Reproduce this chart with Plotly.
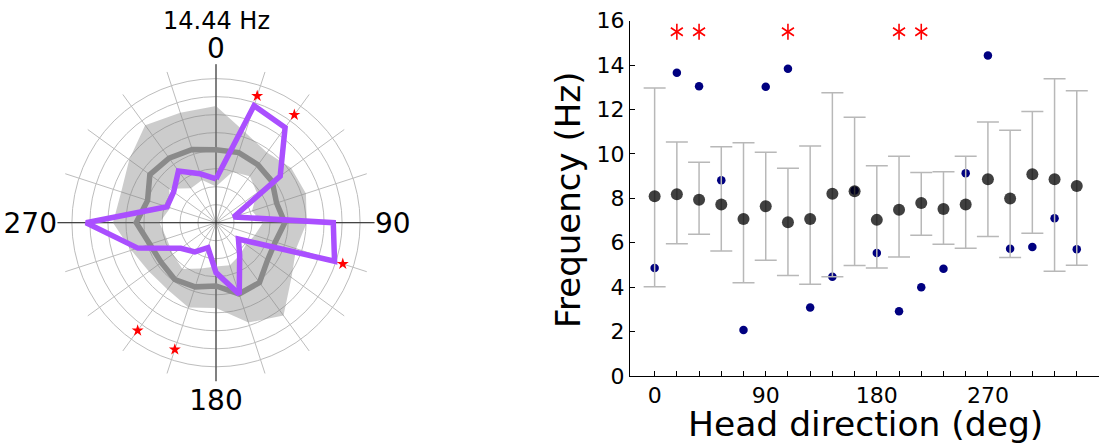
import plotly.graph_objects as go

# ---------------- data ----------------
angles = list(range(0, 360, 18))  # head-direction bins (deg)
mean_rate = [8.09, 8.18, 7.94, 7.72, 7.07, 7.64, 6.92, 7.07, 8.21, 8.32,
             7.03, 7.49, 7.79, 7.52, 7.72, 8.86, 7.99, 9.08, 8.86, 8.56]
upper = [12.97, 10.54, 9.62, 10.32, 10.50, 10.07, 9.35, 10.36, 12.75, 11.65,
         9.47, 9.89, 9.16, 9.20, 9.89, 11.44, 11.07, 11.91, 13.39, 12.84]
lower = [4.02, 5.96, 6.38, 5.63, 4.20, 5.21, 4.52, 4.13, 4.47, 4.97,
         4.86, 5.36, 6.34, 5.93, 5.75, 6.28, 5.33, 6.43, 4.72, 4.99]
observed = [4.86, 13.66, 13.05, 8.81, 2.07, 13.02, 13.84, 3.08, 4.47, 8.35,
            5.54, 2.91, 4.00, 4.83, 9.13, 14.43, 5.73, 5.81, 7.10, 5.71]
star_angles = [18, 36, 108, 198, 216]
star_level_linear = 15.5
star_level_polar = 14.8
peak_label = "14.44 Hz"
x_title = "Head direction (deg)"
y_title = "Frequency (Hz)"
polar_tick_angles = [0, 90, 180, 270]
polar_tick_text = ["0", "90", "180", "270"]
radial_grid = [2, 4, 6, 8, 10, 12, 14, 16]
y_ticks = [0, 2, 4, 6, 8, 10, 12, 14, 16]
x_tick_text = [str(a) if a % 90 == 0 else "" for a in angles]

FONT = "DejaVu Sans"
W, H = 1099, 444


def closed(a):
    return list(a) + list(a[:1])


fig = go.Figure()

# ---------------- polar panel ----------------
# invisible trace so that the grid-only polar subplot is drawn
fig.add_trace(go.Scatterpolar(r=[0], theta=[0], mode="markers",
                              marker=dict(size=1, opacity=0),
                              subplot="polar", hoverinfo="skip"))
fig.add_trace(go.Scatterpolar(r=closed(lower), theta=closed(angles), mode="lines",
                              line=dict(width=0, color="rgba(0,0,0,0)"),
                              subplot="polar2", hoverinfo="skip"))
fig.add_trace(go.Scatterpolar(r=closed(upper), theta=closed(angles), mode="lines",
                              line=dict(width=0, color="rgba(0,0,0,0)"),
                              fill="tonext", fillcolor="rgba(128,128,128,0.40)",
                              subplot="polar2", hoverinfo="skip"))
fig.add_trace(go.Scatterpolar(r=closed(mean_rate), theta=closed(angles), mode="lines",
                              line=dict(width=5.5, color="#8a8a8a"),
                              subplot="polar2"))
fig.add_trace(go.Scatterpolar(r=closed(observed), theta=closed(angles), mode="lines",
                              line=dict(width=5.5, color="#aa4fff"),
                              subplot="polar2"))
fig.add_trace(go.Scatterpolar(r=[star_level_polar] * len(star_angles), theta=star_angles,
                              mode="markers",
                              marker=dict(symbol="star", size=9, color="red", line=dict(width=0)),
                              subplot="polar2"))

# ---------------- linear panel ----------------
fig.add_trace(go.Scatter(x=angles, y=observed, mode="markers",
                         marker=dict(size=8.5, color="#000080", line=dict(width=0)),
                         xaxis="x", yaxis="y"))
fig.add_trace(go.Scatter(x=angles, y=mean_rate, mode="markers",
                         marker=dict(size=12, color="rgba(0,0,0,0.75)", line=dict(width=0)),
                         error_y=dict(type="data", symmetric=False,
                                      array=[u - m for u, m in zip(upper, mean_rate)],
                                      arrayminus=[m - l for m, l in zip(mean_rate, lower)],
                                      color="#b8b8b8", thickness=1.5, width=11),
                         xaxis="x", yaxis="y"))
for sym in ["y-up-open", "y-down-open"]:
    fig.add_trace(go.Scatter(x=star_angles, y=[star_level_linear] * len(star_angles),
                             mode="markers",
                             marker=dict(symbol=sym, size=10, color="red",
                                         line=dict(width=1.6, color="red")),
                             xaxis="x", yaxis="y"))

pdom_x = [0.0523, 0.3408]
pdom_y = [0.1414, 0.8554]

fig.update_layout(
    width=W, height=H,
    margin=dict(l=0, r=0, t=0, b=0, autoexpand=False),
    paper_bgcolor="white", plot_bgcolor="white",
    showlegend=False,
    font=dict(family=FONT, color="black"),
    polar=dict(
        domain=dict(x=pdom_x, y=pdom_y),
        bgcolor="white",
        angularaxis=dict(rotation=90, direction="clockwise", tickmode="array",
                         tickvals=angles, showticklabels=False, ticks="",
                         showline=False, gridcolor="#bdbdbd", gridwidth=1),
        radialaxis=dict(range=[0, 17.6], tickmode="array", tickvals=radial_grid,
                        showticklabels=False, ticks="", showline=False,
                        gridcolor="#bdbdbd", gridwidth=1),
    ),
    polar2=dict(
        domain=dict(x=pdom_x, y=pdom_y),
        bgcolor="rgba(0,0,0,0)",
        angularaxis=dict(rotation=90, direction="clockwise", tickmode="array",
                         tickvals=polar_tick_angles, ticktext=polar_tick_text,
                         tickfont=dict(family=FONT, size=28, color="black"),
                         ticks="", showline=False, gridcolor="#222222", gridwidth=1),
        radialaxis=dict(range=[0, 17.6], showgrid=False, showline=False,
                        showticklabels=False, ticks=""),
    ),
    xaxis=dict(domain=[0.5732, 1.0], range=[-20, 360], tickmode="array",
               tickvals=angles, ticktext=x_tick_text, ticks="inside", ticklen=5,
               tickcolor="black", showline=True, linecolor="black", linewidth=1,
               showgrid=False, zeroline=False, anchor="y", automargin=False,
               tickfont=dict(family=FONT, size=22, color="black")),
    yaxis=dict(domain=[0.1532, 0.9534], range=[0, 16], tickmode="array",
               tickvals=y_ticks, ticks="inside", ticklen=5, tickcolor="black",
               showline=True, linecolor="black", linewidth=1, showgrid=False,
               zeroline=False, anchor="x", automargin=False,
               tickfont=dict(family=FONT, size=22, color="black")),
    annotations=[
        dict(text=peak_label, x=216 / W, y=1 - 21 / H, xref="paper",
             yref="paper", showarrow=False, xanchor="center", yanchor="middle",
             font=dict(family=FONT, size=24, color="black")),
        dict(text=x_title, x=865 / W, y=1 - 424 / H, xref="paper", yref="paper",
             showarrow=False, xanchor="center", yanchor="middle",
             font=dict(family=FONT, size=34.5, color="black")),
        dict(text=y_title, x=568 / W, y=1 - 200 / H, xref="paper", yref="paper",
             showarrow=False, xanchor="center", yanchor="middle", textangle=-90,
             font=dict(family=FONT, size=34, color="black")),
    ],
)

fig.write_html("out.html")
